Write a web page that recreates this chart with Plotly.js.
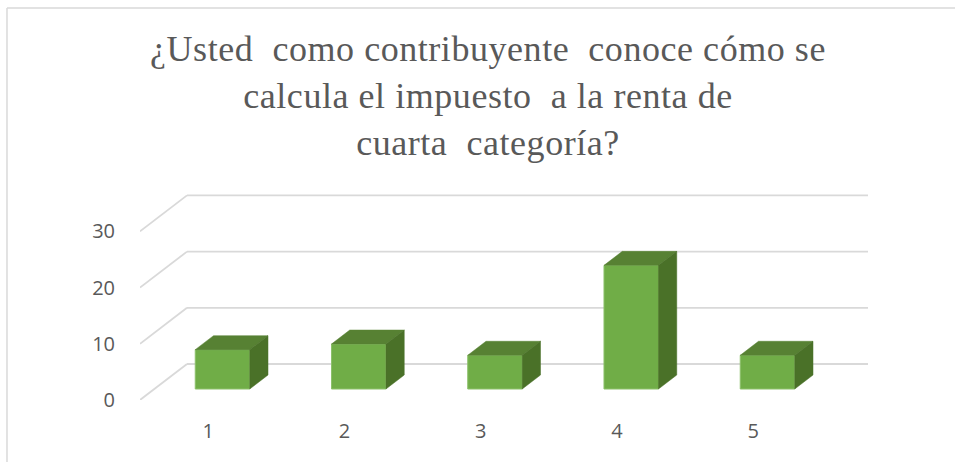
<!DOCTYPE html>
<html>
<head>
<meta charset="utf-8">
<script src="https://cdn.plot.ly/plotly-3.0.0.min.js"></script>
<style>html,body{margin:0;padding:0;background:#fff}#chart{width:955px;height:462px}.gtitle{letter-spacing:0.55px}</style>
</head>
<body>
<div id="chart"></div>
<script>
// Data
const categories = [1, 2, 3, 4, 5];
const values = [7, 8, 6, 22, 6];
const yTicks = [0, 10, 20, 30];
const titleLines = [
  "¿Usted\u00A0\u00A0como contribuyente\u00A0\u00A0conoce cómo se",
  "calcula el impuesto\u00A0\u00A0a la renta de",
  "cuarta\u00A0\u00A0categoría?"
];

// Oblique projection of the pseudo-3D box, in axis units
const wallDX = 47 / 136.25, wallDY = 36 / 5.62;   // full floor depth
const frontDepth = 11 / 36, backDepth = 25 / 36;  // bar position within depth
const barWidth = 0.4;
const xMin = 0.5, xMax = 0.5 + 728 / 136.25;

const px = (c, d) => c + d * wallDX;
const py = (v, d) => v + d * wallDY;

const topX = [], topY = [], sideX = [], sideY = [];
categories.forEach((c, i) => {
  const v = values[i], l = c - barWidth / 2, r = c + barWidth / 2;
  topX.push(px(l, frontDepth), px(r, frontDepth), px(r, backDepth), px(l, backDepth), px(l, frontDepth), null);
  topY.push(py(v, frontDepth), py(v, frontDepth), py(v, backDepth), py(v, backDepth), py(v, frontDepth), null);
  sideX.push(px(r, frontDepth), px(r, backDepth), px(r, backDepth), px(r, frontDepth), px(r, frontDepth), null);
  sideY.push(py(0, frontDepth), py(0, backDepth), py(v, backDepth), py(v, frontDepth), py(0, frontDepth), null);
});

const traces = [
  {
    type: "bar",
    x: categories.map(c => px(c, frontDepth)),
    y: values,
    base: categories.map(() => py(0, frontDepth)),
    width: barWidth,
    marker: { color: "#70AD47", line: { color: "#8CC06B", width: 1 } },
    hoverinfo: "skip"
  },
  {
    type: "scatter", mode: "lines", x: topX, y: topY, fill: "toself",
    fillcolor: "#578133", line: { color: "#578133", width: 0.5 }, hoverinfo: "skip"
  },
  {
    type: "scatter", mode: "lines", x: sideX, y: sideY, fill: "toself",
    fillcolor: "#4A7128", line: { color: "#4A7128", width: 0.5 }, hoverinfo: "skip"
  }
];

const gridStyle = { color: "#D9D9D9", width: 1.8 };
const shapes = [];
yTicks.forEach(t => {
  shapes.push({ type: "line", xref: "x", yref: "y", layer: "below", line: gridStyle,
    x0: xMin, y0: py(t, 0), x1: xMin + wallDX, y1: py(t, 1) });
  shapes.push({ type: "line", xref: "x", yref: "y", layer: "below", line: gridStyle,
    x0: xMin + wallDX, y0: py(t, 1), x1: xMax, y1: py(t, 1) });
});
// Chart frame (top and left edges visible in the crop)
const frame = { color: "#D9D9D9", width: 1.5 };
shapes.push({ type: "line", xref: "paper", yref: "paper", line: frame, x0: -0.1827, y0: 1.867, x1: 1.15, y1: 1.867 });
shapes.push({ type: "line", xref: "paper", yref: "paper", line: frame, x0: -0.1827, y0: 1.867, x1: -0.1827, y1: -0.3 });

const layout = {
  width: 955, height: 462,
  margin: { l: 140, r: 87, t: 190, b: 62, pad: 0 },
  paper_bgcolor: "#FFFFFF", plot_bgcolor: "rgba(0,0,0,0)",
  showlegend: false, bargap: 0,
  title: {
    text: titleLines.join("<br>"),
    font: { family: "Liberation Serif, serif", size: 36, color: "#595959" },
    x: 0.511, xanchor: "center", y: 0.868, yanchor: "top"
  },
  xaxis: {
    range: [xMin, xMax], tickmode: "array", tickvals: categories, ticktext: categories.map(String),
    showgrid: false, zeroline: false, showline: false,
    ticks: "outside", ticklen: 13, tickcolor: "rgba(0,0,0,0)",
    tickfont: { family: "Open Sans, sans-serif", size: 20, color: "#595959" }
  },
  yaxis: {
    range: [0, 210 / 5.62], tickmode: "array", tickvals: yTicks, ticktext: yTicks.map(String),
    showgrid: false, zeroline: false, showline: false,
    ticks: "outside", ticklen: 20, tickcolor: "rgba(0,0,0,0)",
    tickfont: { family: "Open Sans, sans-serif", size: 20, color: "#595959" }
  },
  shapes: shapes
};

Plotly.newPlot("chart", traces, layout, { displayModeBar: false, staticPlot: true });
</script>
</body>
</html>
